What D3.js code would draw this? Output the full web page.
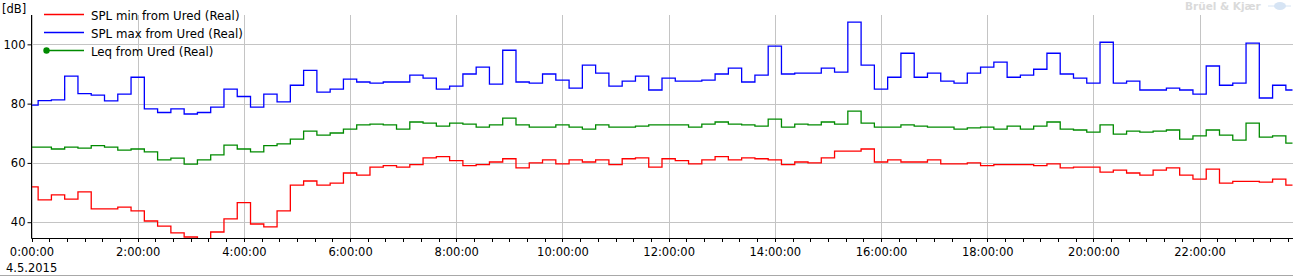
<!DOCTYPE html>
<html>
<head>
<meta charset="utf-8">
<script src="https://cdn.jsdelivr.net/npm/d3@7"></script>
<style>
html,body{margin:0;padding:0;background:#fff;}
svg{display:block;font-family:"DejaVu Sans",Verdana,sans-serif;}
</style>
</head>
<body>
<svg id="chart" width="1293" height="276"></svg>
<script>
// ---- data ----
const startTime = "2015-05-04T00:00:00";
const stepMinutes = 15;
const seriesNames = ["SPL min from Ured (Real)", "SPL max from Ured (Real)", "Leq from Ured (Real)"];
const seriesColors = ["#ff0000", "#0000ff", "#008a00"];
const splMin = [51.9,47.5,49.2,47.8,50.2,44.5,44.5,45.1,43.8,40.4,38.7,36.4,35.0,33.5,36.7,41.1,46.6,39.4,38.4,43.8,
52.5,53.9,52.5,53.2,56.6,55.9,58.6,59.1,58.6,59.4,61.7,62.1,60.8,59.1,59.4,60.3,61.4,58.3,60.0,61.0,
59.7,61.0,60.3,61.0,59.4,61.4,61.7,58.6,61.4,60.8,59.7,61.0,62.1,61.0,61.7,61.4,61.0,59.4,60.3,60.0,
61.7,64.0,64.0,64.7,60.3,61.0,60.3,60.3,61.0,59.7,59.7,60.0,59.1,59.4,59.4,59.4,59.1,59.7,58.3,58.6,
58.6,56.9,57.6,56.6,55.9,57.6,58.3,55.9,54.5,57.9,53.2,53.8,53.8,53.5,54.5,52.5];
const splMax = [79.5,81.0,81.3,89.3,83.4,82.9,80.9,83.2,88.9,78.2,77.0,78.2,76.5,77.0,78.8,84.9,82.4,78.8,83.2,80.6,
86.2,91.2,83.9,84.9,88.3,87.3,86.9,87.3,87.3,89.6,88.6,84.9,85.9,90.0,92.3,86.6,98.0,87.3,86.9,90.0,
87.9,85.2,93.0,90.3,85.9,87.6,89.3,84.6,88.6,87.6,87.6,87.9,90.0,92.0,87.3,89.6,99.4,90.0,90.3,90.3,
92.0,90.6,107.5,93.0,84.9,88.9,97.0,88.9,90.3,87.6,86.9,90.3,92.3,94.0,88.9,89.6,91.6,97.0,90.0,88.6,
86.9,100.7,86.9,87.6,84.6,84.6,85.2,84.6,83.2,92.7,86.2,86.9,100.4,81.9,86.2,84.6];
const leq = [65.3,65.3,64.7,65.3,65.0,65.8,65.3,64.3,64.7,63.7,61.0,61.6,59.6,61.0,62.7,66.0,64.7,63.7,65.8,66.4,
68.0,70.7,69.4,70.1,71.4,72.8,73.1,72.8,71.4,73.8,73.4,72.4,73.4,73.1,72.1,72.8,75.1,72.8,72.1,72.1,
72.8,72.1,71.4,72.8,72.1,72.1,72.4,72.8,72.8,72.8,72.1,73.1,73.8,73.1,72.8,72.4,74.8,72.1,73.1,72.8,
73.8,73.1,77.5,73.4,72.1,72.1,72.8,72.4,72.1,72.1,71.4,71.8,72.1,71.4,72.4,71.4,72.4,73.8,71.4,71.1,
70.4,72.8,69.7,70.7,70.4,70.7,71.1,68.0,69.1,71.1,69.4,67.7,73.4,68.7,69.1,66.7];
const yTicks = [40, 60, 80, 100];
const yDomain = [34.5, 109.9];
const yUnit = "[dB]";
const dateLabel = "4.5.2015";
const watermark = "Brüel & Kjær";

// ---- layout ----
const svg = d3.select("#chart");
const W = 1293, H = 276;
const plot = {left: 31.5, right: 1292.5, top: 15, bottom: 238.5};

const t0 = new Date(startTime);
const times = splMax.map((_, i) => d3.timeMinute.offset(t0, i * stepMinutes));

const x = d3.scaleTime().domain([times[0], times[times.length - 1]]).range([plot.left, plot.right]);
const y = d3.scaleLinear().domain(yDomain).range([plot.bottom, plot.top]);

svg.append("rect").attr("width", W).attr("height", H).attr("fill", "#fff");

// bottom frame line
svg.append("line").attr("x1", 0).attr("x2", W).attr("y1", 275.5).attr("y2", 275.5)
  .attr("stroke", "#a8a8a8").attr("stroke-width", 1);

// grid
const majorTicks = d3.timeHour.every(2).range(times[0], d3.timeMinute.offset(times[times.length - 1], 1));
svg.append("g").selectAll("line").data(majorTicks).join("line")
  .attr("x1", d => Math.round(x(d)) + 0.5).attr("x2", d => Math.round(x(d)) + 0.5)
  .attr("y1", plot.top).attr("y2", plot.bottom)
  .attr("stroke", "#c4c4c4").attr("stroke-width", 1);
svg.append("g").selectAll("line").data(yTicks).join("line")
  .attr("x1", plot.left).attr("x2", W)
  .attr("y1", d => Math.round(y(d)) + 0.5).attr("y2", d => Math.round(y(d)) + 0.5)
  .attr("stroke", "#c4c4c4").attr("stroke-width", 1);

// clip
svg.append("clipPath").attr("id", "clip").append("rect")
  .attr("x", plot.left).attr("y", plot.top).attr("width", W - plot.left).attr("height", plot.bottom - plot.top);

const line = d3.line().x((d, i) => x(times[i])).y(d => y(d)).curve(d3.curveStep);
const gLines = svg.append("g").attr("clip-path", "url(#clip)");
[splMin, splMax, leq].forEach((s, k) => {
  gLines.append("path").datum(s).attr("d", line)
    .attr("fill", "none").attr("stroke", seriesColors[k]).attr("stroke-width", 1.3);
});

// x axis
const xAxis = d3.axisBottom(x).tickValues(majorTicks).tickFormat(d3.timeFormat("%-H:%M:%S")).tickSize(0).tickPadding(0);
const gx = svg.append("g").attr("transform", `translate(0,${plot.bottom})`).call(xAxis);
gx.select(".domain").remove();
gx.selectAll("text").attr("font-size", "11.5px").attr("fill", "#000").attr("font-family", "DejaVu Sans")
  .attr("dy", null).attr("y", 17.5);
const minorTicks = d3.timeMinute.every(20).range(times[0], d3.timeMinute.offset(times[times.length - 1], 1));
svg.append("g").selectAll("line").data(minorTicks).join("line")
  .attr("x1", d => Math.round(x(d)) + 0.5).attr("x2", d => Math.round(x(d)) + 0.5)
  .attr("y1", plot.bottom).attr("y2", plot.bottom + 3.5)
  .attr("stroke", "#000").attr("stroke-width", 1);
svg.append("line").attr("x1", plot.left).attr("x2", W).attr("y1", plot.bottom).attr("y2", plot.bottom)
  .attr("stroke", "#000").attr("stroke-width", 1);

// y axis
const yAxis = d3.axisLeft(y).tickValues(yTicks).tickSize(4).tickPadding(2);
const gy = svg.append("g").attr("transform", `translate(${plot.left},0)`).call(yAxis);
gy.select(".domain").remove();
gy.selectAll(".tick line").attr("stroke", "#000");
gy.selectAll("text").attr("font-size", "11.5px").attr("fill", "#000").attr("font-family", "DejaVu Sans");
svg.append("line").attr("x1", plot.left).attr("x2", plot.left).attr("y1", plot.top).attr("y2", plot.bottom)
  .attr("stroke", "#000").attr("stroke-width", 1);

svg.append("text").attr("x", 2).attr("y", 13).attr("font-size", "11.5px").text(yUnit);
svg.append("text").attr("x", 6).attr("y", 272).attr("font-size", "11.5px").text(dateLabel);

// legend
const legend = svg.append("g");
seriesNames.forEach((name, k) => {
  const ly = 14.5 + k * 18;
  legend.append("line").attr("x1", 44).attr("x2", 84).attr("y1", ly).attr("y2", ly)
    .attr("stroke", seriesColors[k]).attr("stroke-width", 1.3);
  legend.append("text").attr("x", 91).attr("y", ly + 5.5).attr("font-size", "11.8px").text(name);
});
legend.append("circle").attr("cx", 46.5).attr("cy", 14.5 + 2 * 18).attr("r", 3.2).attr("fill", seriesColors[2]);

// watermark
svg.append("text").attr("x", 1185).attr("y", 10).attr("font-size", "10.5px").attr("font-weight", "bold")
  .attr("fill", "#dadada").text(watermark);
svg.append("ellipse").attr("cx", 1280).attr("cy", 6).attr("rx", 6).attr("ry", 4).attr("fill", "#d6e4f4");
svg.append("line").attr("x1", 1268).attr("x2", 1291).attr("y1", 6).attr("y2", 6).attr("stroke", "#d6e4f4");
</script>
</body>
</html>
